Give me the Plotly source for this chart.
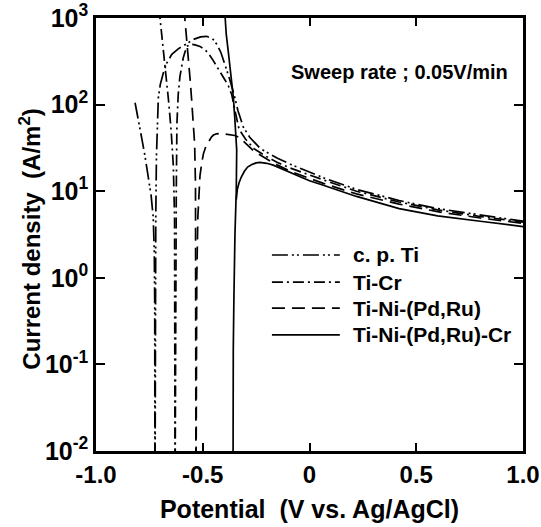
import plotly.graph_objects as go

# ---------------- data ----------------
series_names = ["c. p. Ti", "Ti-Cr", "Ti-Ni-(Pd,Ru)", "Ti-Ni-(Pd,Ru)-Cr"]

# c. p. Ti : cathodic branch, gap, anodic branch
cpti_potential = [-0.817, -0.80, -0.785, -0.77, -0.755, -0.742, -0.732, -0.727, -0.725, -0.724,
                  None,
                  -0.723, -0.722, -0.720, -0.717, -0.713, -0.708, -0.699, -0.685, -0.669, -0.645,
                  -0.615, -0.575, -0.54, -0.51, -0.482, -0.455, -0.435, -0.415, -0.395, -0.375,
                  -0.355, -0.335, -0.31, -0.28, -0.23, -0.15, -0.09, 0.0, 0.065, 0.22, 0.42,
                  0.6, 0.8, 1.0]
cpti_current = [105, 65, 40, 25, 15, 9, 5, 2, 0.5, 0.008,
                None,
                0.008, 0.5, 5, 25, 60, 120, 170, 230, 300, 380,
                440, 510, 570, 605, 615, 580, 500, 400, 290, 200,
                135, 85, 55, 42, 31, 24, 20.5, 16.5, 14.3, 10.5, 7.8,
                6.3, 5.3, 4.5]

# Ti-Cr
ticr_potential = [-0.705, -0.69, -0.675, -0.66, -0.648, -0.638, -0.632, -0.63,
                  None,
                  -0.629, -0.627, -0.624, -0.621, -0.615, -0.607, -0.591, -0.575, -0.555,
                  -0.536, -0.513, -0.489, -0.47, -0.45, -0.435, -0.419, -0.40, -0.38,
                  -0.364, -0.349, -0.33, -0.30, -0.26, -0.2, -0.15, -0.09, 0.0, 0.065,
                  0.22, 0.42, 0.6, 0.8, 1.0]
ticr_current = [1300, 600, 250, 110, 50, 20, 5, 0.008,
                None,
                0.008, 1, 10, 60, 130, 210, 350, 470, 500,
                490, 470, 430, 380, 320, 275, 235, 200, 165,
                130, 85, 52, 40, 31, 25, 21.5, 18.5, 15.3, 13.5,
                10, 7.5, 6.1, 5.1, 4.4]

# Ti-Ni-(Pd,Ru)
tini_potential = [-0.588, -0.575, -0.565, -0.558, -0.552, -0.545, -0.538, -0.534, -0.532,
                  None,
                  -0.531, -0.528, -0.523, -0.518, -0.513, -0.505, -0.497, -0.485, -0.474,
                  -0.46, -0.45, -0.435, -0.42, -0.40, -0.38, -0.36, -0.35, -0.33, -0.30,
                  -0.26, -0.2, -0.15, -0.09, 0.0, 0.065, 0.22, 0.42, 0.6, 0.8, 1.0]
tini_current = [1300, 600, 320, 180, 113, 65, 35, 12, 0.008,
                None,
                0.008, 1, 5, 10, 15, 21, 27, 33, 37,
                42, 44.5, 46, 46.5, 46, 45.5, 45, 44, 42, 36,
                29, 23.5, 20, 17, 14, 12.3, 9.3, 7.1, 5.8, 4.9, 4.25]

# Ti-Ni-(Pd,Ru)-Cr
tinicr_potential = [-0.398, -0.39, -0.38, -0.37, -0.357, -0.35, -0.344, -0.341, -0.343, -0.349,
                    -0.354, -0.357, -0.358,
                    None,
                    -0.343, -0.338, -0.33, -0.32, -0.305, -0.29, -0.27, -0.25, -0.232, -0.2,
                    -0.17, -0.09, 0.0, 0.065, 0.22, 0.42, 0.6, 0.8, 1.0]
tinicr_current = [1300, 650, 400, 250, 124, 70, 46, 30, 10, 3.3,
                  0.6, 0.15, 0.008,
                  None,
                  8, 10.5, 12.5, 14.5, 17, 19, 20.3, 21.2, 21.5, 21,
                  20, 16.3, 13.2, 11.7, 8.7, 6.3, 5.2, 4.5, 3.9]

x_tick_values = [-1.0, -0.5, 0.0, 0.5, 1.0]
x_tick_labels = ["-1.0", "-0.5", "0", "0.5", "1.0"]
y_tick_values = [0.01, 0.1, 1, 10, 100, 1000]
y_tick_labels = ["10<sup>-2</sup>", "10<sup>-1</sup>", "10<sup>0</sup>",
                 "10<sup>1</sup>", "10<sup>2</sup>", "10<sup>3</sup>"]

annotation_text = "Sweep rate ; 0.05V/min"
x_title = "Potential  (V vs. Ag/AgCl)"
y_title = "Current density  (A/m<sup>2</sup>)"

# ---------------- styling ----------------
FONT = "Liberation Sans, Arial, Helvetica, sans-serif"
dashes = ["16px,4px,2px,3px,2px,4px", "11px,4px,2px,4px", "13px,7px", "solid"]
LW = 1.7

series = [
    (cpti_potential, cpti_current),
    (ticr_potential, ticr_current),
    (tini_potential, tini_current),
    (tinicr_potential, tinicr_current),
]

fig = go.Figure()
for name, (xs, ys), dash in zip(series_names, series, dashes):
    fig.add_trace(go.Scatter(
        x=xs, y=ys, mode="lines", name=name, connectgaps=False,
        line=dict(color="black", width=LW, dash=dash),
        showlegend=False,
    ))

axis_common = dict(
    showline=True, linecolor="black", linewidth=2.5,
    mirror="ticks", ticks="inside", tickcolor="black", tickwidth=2,
    showgrid=False, zeroline=False, automargin=False,
)

fig.update_xaxes(
    range=[-1, 1], tickvals=x_tick_values, ticktext=x_tick_labels, ticklen=8,
    tickfont=dict(family=FONT, size=24, color="black", weight="bold"),
    title=dict(text=x_title, font=dict(family=FONT, size=25, color="black", weight="bold"),
               standoff=14),
    **axis_common,
)
fig.update_yaxes(
    type="log", range=[-2, 3], tickvals=y_tick_values, ticktext=y_tick_labels, ticklen=9,
    tickfont=dict(family=FONT, size=25, color="black", weight="bold"),
    **axis_common,
)

# manual legend (long line samples as in the reference)
legend_rows_y = [0.4527, 0.390, 0.330, 0.268]
shapes = []
annotations = []
for name, dash, yy in zip(series_names, dashes, legend_rows_y):
    shapes.append(dict(type="line", xref="paper", yref="paper", x0=0.412, x1=0.571,
                       y0=yy, y1=yy, line=dict(color="black", width=LW, dash=dash)))
    annotations.append(dict(xref="paper", yref="paper", x=0.598, y=yy, text=name,
                            showarrow=False, xanchor="left", yanchor="middle",
                            font=dict(family=FONT, size=21, color="black", weight="bold")))

annotations.append(dict(xref="paper", yref="paper", x=0.451, y=0.875, text=annotation_text,
                        showarrow=False, xanchor="left", yanchor="middle",
                        font=dict(family=FONT, size=20, color="black", weight="bold")))

# y-axis title as rotated annotation (placed like the reference)
annotations.append(dict(xref="paper", yref="paper", x=-0.155, y=0.49, text=y_title,
                        textangle=-90, showarrow=False, xanchor="center", yanchor="middle",
                        font=dict(family=FONT, size=24, color="black", weight="bold")))

fig.update_layout(
    width=541, height=527,
    margin=dict(l=96, r=18, t=18, b=76, autoexpand=False),
    paper_bgcolor="white", plot_bgcolor="white",
    showlegend=False,
    shapes=shapes, annotations=annotations,
)

fig.write_html("out.html",
               config={"displayModeBar": False},
               post_script="document.body.style.margin='0';document.body.style.overflow='hidden';")
